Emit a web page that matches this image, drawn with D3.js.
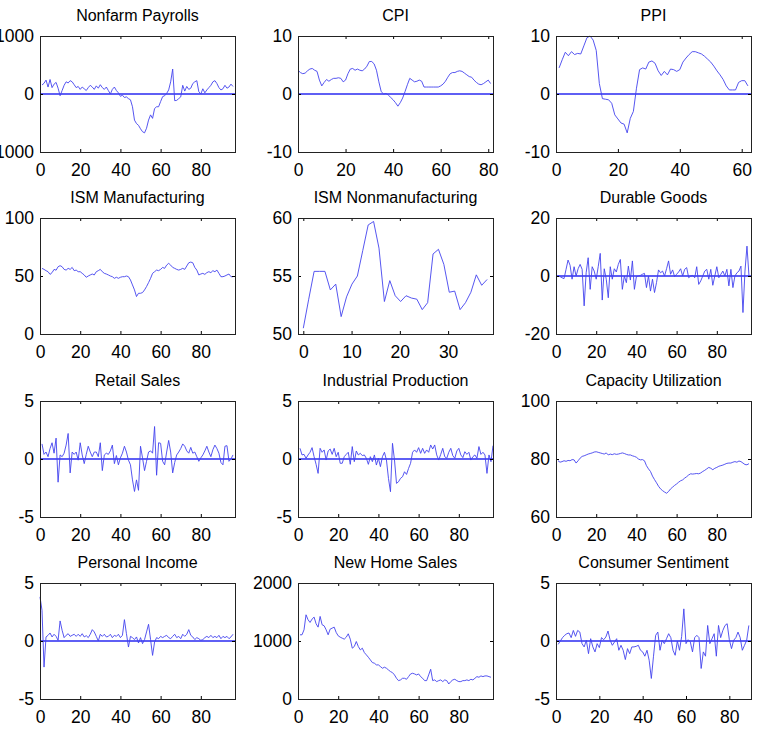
<!DOCTYPE html>
<html>
<head>
<meta charset="utf-8">
<script src="https://cdn.jsdelivr.net/npm/d3@7"></script>
<style>
  body { margin: 0; background: #fff; }
  svg { display: block; }
</style>
</head>
<body>
<script>
/* values, one array per panel */
var nonfarm = [155, 185, 240, 120, 250, 110, 170, 200, 100, -30,
  60, 150, 210, 190, 230, 210, 160, 110, 130, 80,
  120, 90, 60, 110, 150, 120, 80, 140, 100, 160,
  110, 80, 120, 60, 0, 80, 120, 60, 20, -40,
  -20, -60, -50, -80, -100, -220, -450, -510, -540, -600,
  -650, -670, -590, -450, -360, -420, -250, -220, -220, -130,
  -45, -30, 10, 70, 210, 430, -115, -110, -80, -50,
  150, 50, 130, 80, 100, 180, 210, 230, 40, 0,
  90, 20, 70, 110, 150, 210, 230, 180, 110, 70,
  90, 150, 100, 120, 170, 130];

var cpi = [4.1, 3.7, 3.5, 3.6, 4.0, 4.3, 4.4, 4.1, 3.9, 2.4,
  1.4, 2.0, 2.5, 2.2, 2.5, 2.7, 2.7, 2.8, 2.7, 2.1,
  2.4, 3.5, 4.3, 4.4, 4.1, 4.3, 4.1, 4.0, 4.3, 4.8,
  5.6, 5.6, 5.2, 4.1, 2.1, 0.4, 0.0, 0.1, -0.2, -0.6,
  -1.0, -1.5, -2.1, -1.5, -0.7, 0.4, 1.6, 2.7, 2.4, 2.1,
  2.2, 2.4, 2.2, 1.2, 1.2, 1.2, 1.2, 1.2, 1.2, 1.2,
  1.4, 1.7, 2.2, 2.9, 3.5, 3.7, 3.7, 3.9, 4.0, 3.9,
  3.6, 3.3, 3.0, 2.9, 2.4, 2.0, 1.7, 1.6, 1.8, 2.1,
  2.4, 1.8];

var ppi = [4.5, 5.9, 7.2, 6.6, 7.3, 6.8, 7.0, 6.9, 8.3, 9.7,
  10.0, 9.3, 7.5, 1.8, -0.8, -0.9, -1.0, -1.6, -3.6, -4.3,
  -5.0, -5.2, -6.7, -4.2, -3.0, 1.0, 4.2, 4.5, 4.3, 5.5,
  5.7, 5.3, 4.0, 3.2, 3.9, 3.3, 4.3, 4.2, 3.9, 4.2,
  5.5, 6.2, 6.8, 7.3, 7.3, 7.1, 6.9, 6.5, 6.0, 5.5,
  4.8, 4.0, 3.3, 2.5, 1.4, 0.7, 0.7, 0.7, 2.0, 2.3,
  2.3, 1.4];

var ismMfg = [56.6, 55.7, 54.6, 53.7, 51.4, 52.9, 55.7, 55.0, 58.0, 58.9,
  58.0, 55.7, 55.1, 56.6, 55.7, 57.4, 54.6, 55.1, 53.7, 53.7,
  52.3, 50.9, 48.9, 50.0, 50.9, 51.7, 50.9, 53.7, 54.6, 55.7,
  53.7, 52.3, 51.7, 50.9, 50.0, 49.4, 48.0, 48.9, 48.0, 48.9,
  49.4, 49.4, 50.0, 49.4, 46.6, 42.3, 38.0, 32.3, 35.1, 35.1,
  35.7, 38.0, 40.9, 44.3, 48.0, 52.3, 53.7, 55.1, 54.6, 55.7,
  57.4, 56.6, 59.4, 60.9, 59.4, 57.4, 56.6, 55.7, 55.1, 55.7,
  56.6, 55.7, 58.6, 61.4, 62.0, 61.4, 57.4, 55.1, 50.9, 51.7,
  52.3, 51.4, 52.9, 53.7, 52.9, 54.6, 53.7, 55.1, 52.3, 49.4,
  49.4, 50.0, 50.9, 51.7, 49.4, 49.4];

var ismNonMfg = [50.5, 53.0, 55.4, 55.4, 55.4, 53.8, 54.3, 51.5, 53.2, 54.3,
  55.0, 57.2, 59.4, 59.7, 57.4, 52.8, 54.6, 53.3, 52.8, 53.3,
  53.1, 53.0, 52.1, 52.7, 56.9, 57.3, 56.0, 53.6, 53.7, 52.1,
  52.7, 53.6, 55.1, 54.2, 54.7];

var durable = [0.2, -0.2, -0.6, -0.9, 2.3, 5.5, 3.7, -1.1, 3.2, 0.0,
  2.5, 4.0, 2.3, -10.3, 1.1, 6.3, -4.6, 3.2, 1.7, -1.1,
  3.2, 7.8, -8.3, 2.5, -1.1, -7.5, 3.2, -1.1, 2.5, 1.4,
  4.0, 5.7, -4.6, 0.0, -2.3, 3.4, -1.4, 5.2, -4.6, -0.2,
  0.0, 0.2, 0.6, 0.9, -4.0, 0.0, -5.2, -1.1, -5.7, -2.3,
  2.1, 1.1, 1.7, 0.0, 2.5, 5.2, 0.6, 2.1, -0.2, 0.6,
  1.4, 2.5, 0.0, 2.3, 2.9, -0.6, 0.0, 0.2, -0.6, 3.2,
  -2.9, -1.7, 0.0, 1.7, 2.3, -1.1, 2.3, -3.2, 0.0, 3.2,
  -0.6, 0.6, 1.7, 0.0, 2.3, -3.4, 2.3, -4.0, 0.0, 1.1,
  1.7, 3.4, -12.6, 1.7, 10.3, 0.0];

var retail = [1.3, 0.4, 0.6, 0.2, 0.9, 1.4, 0.5, 1.8, -2.0, 0.35,
  0.2, 0.5, 1.2, 2.2, -1.2, 0.6, 0.4, 0.6, -0.1, 1.4,
  0.35, -0.4, 0.4, 1.1, 0.6, 0.2, 0.6, 0.6, 0.2, 1.4,
  -1.0, 0.35, 0.5, 0.4, 0.7, 1.2, -0.4, 0.3, -0.5, 0.1,
  0.5, 1.1, 0.6, -0.1, -0.5, -1.8, -2.8, -1.8, -2.7, 1.1,
  0.1, -1.0, -0.2, 0.6, 0.7, 0.5, 2.8, -1.4, 1.4, 1.35,
  -0.2, -0.5, 0.6, 1.6, 0.6, -1.2, -0.3, 0.35, 0.6, 0.9,
  1.3, 1.1, 0.7, 0.5, 1.0, 0.5, 0.6, 0.2, -0.2, 0.1,
  0.35, 0.7, 1.1, 0.6, 0.2, 0.8, 1.2, 0.9, 0.5, -0.3,
  -0.5, 1.1, 1.15, -0.2, 0.0, 0.35];

var indProd = [0.92, 0.35, 0.4, 0.06, 0.35, 0.58, 0.98, 0.2, -0.46, -1.24,
  0.92, 0.58, 0.78, -0.09, 0.69, 0.86, 0.4, 0.92, 0.2, 0.58,
  -0.37, -0.37, 0.2, 0.4, 0.58, -0.46, 1.07, -0.23, 0.69, 0.35,
  0.49, 0.29, 0.35, 0.06, -0.46, 0.2, -0.23, 0.35, -0.52, 0.06,
  -0.66, 0.2, 0.58, -0.09, -1.67, -2.82, 1.35, -0.09, -2.1, -1.96,
  -1.67, -1.53, -1.1, -1.33, -0.81, -0.37, 0.58, 0.78, 0.58, 0.98,
  0.49, 0.92, 0.49, 0.78, 0.58, 1.21, 0.86, 1.21, 0.35, -0.09,
  0.4, 0.92, 0.2, 0.06, 0.58, 0.92, 0.29, 0.06, 0.69, 0.92,
  0.35, 0.12, 0.63, 0.4, 0.58, -0.09, 0.2, 0.35, 0.06, 1.07,
  0.4, 0.58, 0.35, -1.24, 0.35, -0.23, 1.15];

var capUtil = [79.4, 78.9, 79.1, 79.4, 79.2, 79.5, 79.4, 79.8, 79.7, 78.6,
  79.4, 80.3, 80.9, 81.1, 81.4, 81.7, 81.9, 82.1, 82.4, 82.5,
  82.3, 82.1, 81.9, 81.7, 82.1, 81.4, 81.7, 81.5, 81.8, 81.6,
  81.7, 81.9, 82.1, 81.9, 81.6, 81.4, 81.4, 81.1, 80.9, 80.6,
  80.0, 79.7, 79.8, 79.4, 77.7, 76.6, 75.7, 74.1, 72.9, 71.8,
  70.6, 69.7, 69.1, 68.6, 68.2, 68.8, 69.7, 70.3, 70.9, 71.4,
  72.0, 72.5, 72.8, 73.4, 73.9, 74.5, 74.9, 74.8, 74.9, 75.0,
  74.9, 75.2, 75.7, 76.1, 76.6, 77.1, 76.8, 76.3, 76.8, 77.1,
  77.5, 77.7, 77.9, 78.2, 78.5, 78.6, 78.6, 78.9, 79.1, 78.9,
  79.3, 79.1, 78.6, 78.1, 78.0, 78.4];

var persIncome = [3.8, 2.65, -2.25, 0.35, 0.49, 0.69, 0.35, 0.58, 0.4, 0.06,
  1.73, 0.92, 0.29, 0.49, 0.63, 0.4, 0.49, 0.58, 0.4, 0.58,
  0.4, 0.63, 0.35, 0.46, 0.29, 0.58, 0.98, 0.78, 0.4, 0.0,
  0.58, 0.4, 0.58, 0.35, 0.4, 0.58, 0.29, 0.49, 0.4, 0.58,
  0.29, 0.49, 1.84, 0.63, -0.52, 0.4, 0.29, 0.12, 0.35, -0.17,
  0.29, -0.23, 0.12, 0.78, 1.44, 0.12, -1.24, -0.09, 0.29, 0.2,
  0.4, 0.29, 0.4, 0.49, 0.29, 0.2, 0.4, 0.58, 0.29, 0.4,
  0.2, 0.58, 0.4, 0.58, 0.98, 0.49, 0.35, 0.12, 0.29, 0.2,
  0.06, 0.12, 0.29, 0.4, 0.29, 0.49, 0.29, 0.4, 0.29, 0.49,
  0.2, 0.4, 0.29, 0.4, 0.2, 0.35, 0.58];

var newHome = [1107, 1107, 1193, 1452, 1366, 1320, 1378, 1412, 1297, 1239,
  1424, 1280, 1262, 1193, 1107, 1205, 1222, 1239, 1147, 1089,
  1066, 1049, 1032, 1066, 1124, 1032, 876, 905, 991, 905,
  847, 876, 801, 761, 720, 674, 628, 617, 588, 588,
  559, 530, 548, 530, 501, 473, 455, 415, 357, 317,
  329, 357, 357, 340, 386, 432, 444, 432, 415, 432,
  386, 357, 317, 317, 415, 513, 317, 329, 300, 317,
  329, 300, 329, 317, 259, 300, 329, 340, 317, 300,
  300, 317, 317, 329, 317, 340, 329, 357, 386, 375,
  398, 386, 398, 398, 386, 375];

var consSent = [-0.29, 0.0, 0.29, 0.49, 0.63, 0.69, 0.29, 0.91, 0.4, 0.91,
  0.77, -0.23, -0.51, 0.06, -1.09, 0.2, -0.51, -0.94, -0.23, -0.57,
  0.29, 0.11, 0.34, 0.86, 0.06, -0.37, -0.09, 0.2, -0.8, -0.37,
  -0.8, -1.6, -0.66, -1.09, -0.51, -0.51, -0.46, -0.37, -0.8, -0.94,
  -1.31, -0.8, -1.66, -3.23, -1.31, 0.49, 0.77, -0.8, 0.06, -0.23,
  0.2, 0.63, 0.29, -0.8, -1.23, 0.0, -0.8, 0.4, 2.77, -0.23,
  0.11, -0.09, -0.94, 0.29, 0.49, 0.29, -2.37, -0.94, -1.31, 1.34,
  -0.23, 0.2, 0.63, -1.31, 1.34, 0.29, 0.91, 1.34, 1.49, 0.11,
  -0.66, 0.06, 0.29, 0.77, 0.29, -0.8, -0.37, 0.06, 1.34];

var titles = ["Nonfarm Payrolls", "CPI", "PPI",
  "ISM Manufacturing", "ISM Nonmanufacturing", "Durable Goods",
  "Retail Sales", "Industrial Production", "Capacity Utilization",
  "Personal Income", "New Home Sales", "Consumer Sentiment"];
var series = [nonfarm, cpi, ppi, ismMfg, ismNonMfg, durable,
  retail, indProd, capUtil, persIncome, newHome, consSent];
// x value of the first sample and spacing between samples
var firstX = [1, 0, 1, 1, 0, 1, 1, 1, 1, 0, 1, 1];
var stepX = [1, 1, 1, 1, 1.12, 1, 1, 1, 1, 1, 1, 1];
// x limits
var xMin = [0, 0, 0, 0, -1.1, 0, 0, 0, 0, 0, 0, 0];
var xMax = [97, 82, 63, 97, 39.3, 97, 97, 97, 97, 97, 97, 90];
var xTicks = [
  [0, 20, 40, 60, 80], [0, 20, 40, 60, 80], [0, 20, 40, 60],
  [0, 20, 40, 60, 80], [0, 10, 20, 30], [0, 20, 40, 60, 80],
  [0, 20, 40, 60, 80], [0, 20, 40, 60, 80], [0, 20, 40, 60, 80],
  [0, 20, 40, 60, 80], [0, 20, 40, 60, 80], [0, 20, 40, 60, 80]];
// y ticks: first and last are also the y limits
var yTicks = [
  [-1000, 0, 1000], [-10, 0, 10], [-10, 0, 10],
  [0, 50, 100], [50, 55, 60], [-20, 0, 20],
  [-5, 0, 5], [-5, 0, 5], [60, 80, 100],
  [-5, 0, 5], [0, 1000, 2000], [-5, 0, 5]];
var zeroLine = [true, true, true, false, false, true,
  true, true, false, true, false, true];

(function () {
  "use strict";
  var width = 757, height = 735,
    colX = [40, 298, 556], rowY = [36, 218, 401, 583],
    pw = 195, ph = 116, tickLen = 3,
    font = "'Liberation Sans', Arial, Helvetica, sans-serif",
    blue = "#2a2af0", lineBlue = "#4343ee",
    svg;

  svg = d3.select("body").append("svg")
    .attr("width", width)
    .attr("height", height);

  svg.append("rect")
    .attr("width", width)
    .attr("height", height)
    .attr("fill", "#fff");

  function fmt(d) { return String(d); }

  function styleAxis(g) {
    g.attr("font-family", font).attr("font-size", 17.5);
    g.select(".domain").remove();
    g.selectAll("line").attr("stroke", "#000");
  }

  titles.forEach(function (title, k) {
    var col = k % 3, row = Math.floor(k / 3),
      data = series[k], yt = yTicks[k], xt = xTicks[k],
      g, x, y, line;

    x = d3.scaleLinear().domain([xMin[k], xMax[k]]).range([0, pw]);
    y = d3.scaleLinear().domain([yt[0], yt[yt.length - 1]]).range([ph, 0]);

    g = svg.append("g")
      .attr("transform", "translate(" + colX[col] + "," + rowY[row] + ")");

    if (zeroLine[k]) {
      g.append("line")
        .attr("x1", 0).attr("x2", pw)
        .attr("y1", y(0)).attr("y2", y(0))
        .attr("stroke", blue)
        .attr("stroke-width", 1.3);
    }

    line = d3.line()
      .x(function (d, i) { return x(firstX[k] + i * stepX[k]); })
      .y(function (d) { return y(d); });

    g.append("path")
      .datum(data)
      .attr("fill", "none")
      .attr("stroke", lineBlue)
      .attr("stroke-width", 0.9)
      .attr("stroke-linejoin", "round")
      .attr("d", line);

    // ticks point inward on all four sides, labels only bottom and left
    g.append("g")
      .attr("transform", "translate(0," + ph + ")")
      .call(d3.axisBottom(x).tickValues(xt).tickSizeInner(-tickLen)
        .tickSizeOuter(0).tickPadding(12).tickFormat(fmt))
      .call(styleAxis);
    g.append("g")
      .call(d3.axisTop(x).tickValues(xt).tickSizeInner(-tickLen)
        .tickSizeOuter(0).tickFormat(""))
      .call(styleAxis);
    g.append("g")
      .call(d3.axisLeft(y).tickValues(yt).tickSizeInner(-tickLen)
        .tickSizeOuter(0).tickPadding(6).tickFormat(fmt))
      .call(styleAxis);
    g.append("g")
      .attr("transform", "translate(" + pw + ",0)")
      .call(d3.axisRight(y).tickValues(yt).tickSizeInner(-tickLen)
        .tickSizeOuter(0).tickFormat(""))
      .call(styleAxis);

    g.append("rect")
      .attr("x", 0.5).attr("y", 0.5)
      .attr("width", pw).attr("height", ph)
      .attr("fill", "none")
      .attr("stroke", "#222")
      .attr("stroke-width", 1);

    g.append("text")
      .attr("x", pw / 2)
      .attr("y", -15)
      .attr("text-anchor", "middle")
      .attr("font-family", font)
      .attr("font-size", 16)
      .attr("fill", "#000")
      .text(title);
  });
})();
</script>
</body>
</html>
